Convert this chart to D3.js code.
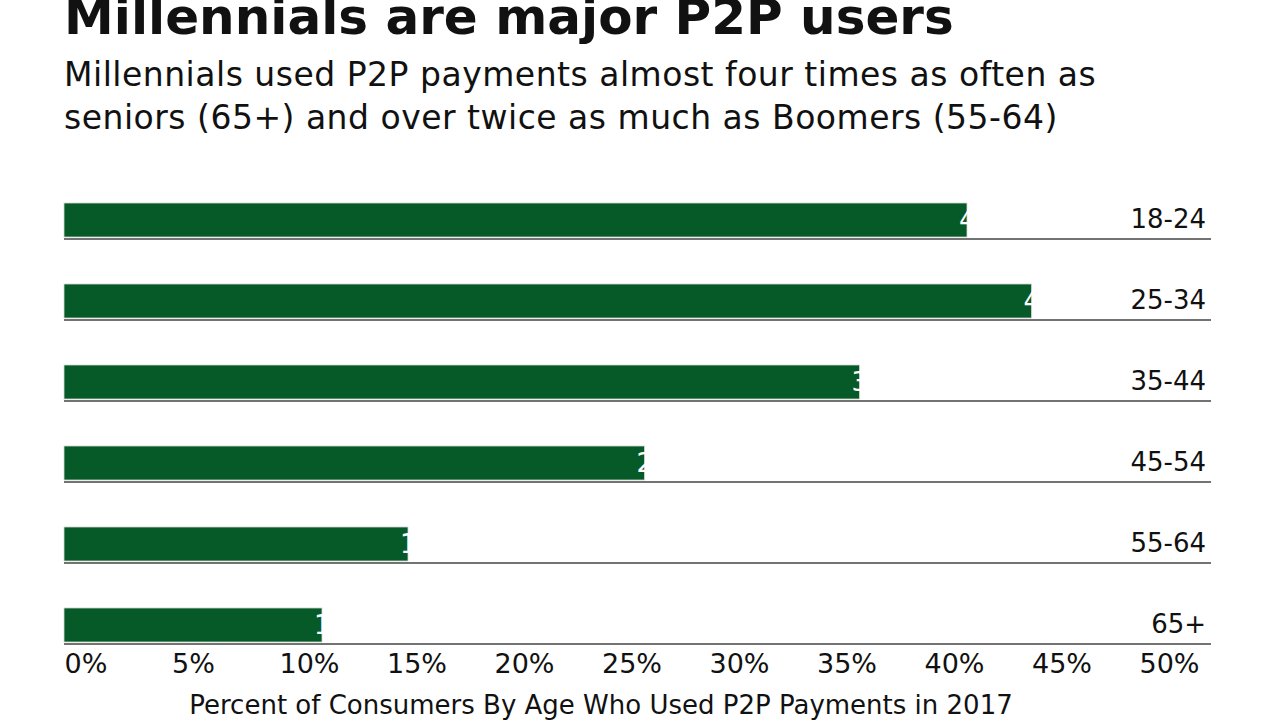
<!DOCTYPE html>
<html>
<head>
<meta charset="utf-8">
<script src="https://cdn.jsdelivr.net/npm/d3@7"></script>
<style>
  html, body { margin: 0; padding: 0; background: #fff; }
  svg { display: block; font-family: "DejaVu Sans", sans-serif; }
</style>
</head>
<body>
<div id="chart"></div>
<script>
// chart data
var ageGroups = ["18-24", "25-34", "35-44", "45-54", "55-64", "65+"];
var usedP2P = [42, 45, 37, 27, 16, 12];
var tickValues = [0, 5, 10, 15, 20, 25, 30, 35, 40, 45, 50];

var title = "Millennials are major P2P users";
var subtitle = ["Millennials used P2P payments almost four times as often as",
                "seniors (65+) and over twice as much as Boomers (55-64)"];
var axisTitle = "Percent of Consumers By Age Who Used P2P Payments in 2017";

var width = 1280, height = 720;
var green = "#055a27";

var svg = d3.select("#chart").append("svg")
    .attr("width", width)
    .attr("height", height);

svg.append("text")
    .attr("x", 64)
    .attr("y", 34)
    .attr("font-size", 50)
    .attr("font-weight", 700)
    .attr("fill", "#111")
    .text(title);

svg.selectAll(".sub")
    .data(subtitle)
    .enter().append("text")
    .attr("class", "sub")
    .attr("x", 64)
    .attr("y", function (d, i) { return 86 + i * 43; })
    .attr("font-size", 33)
    .attr("letter-spacing", 0.5)
    .attr("fill", "#111")
    .text(function (d) { return d; });

var x = d3.scaleLinear().domain([0, 50]).range([64, 1139]);
var y = d3.scaleBand().domain(ageGroups).range([203, 642]).paddingInner(0.58).paddingOuter(0);

var rows = svg.selectAll(".row")
    .data(ageGroups)
    .enter().append("g")
    .attr("class", "row");

rows.append("rect")
    .attr("x", x(0))
    .attr("y", function (d) { return y(d); })
    .attr("width", function (d, i) { return x(usedP2P[i]) - x(0); })
    .attr("height", y.bandwidth())
    .attr("fill", green)
    .attr("stroke", "#d8d8d8")
    .attr("stroke-width", 0.8);

// value labels: white, mostly hidden past the bar end like the original
rows.append("text")
    .attr("x", function (d, i) { return x(usedP2P[i]) - 8; })
    .attr("y", function (d) { return y(d) + 26; })
    .attr("font-size", 26)
    .attr("fill", "#fff")
    .text(function (d, i) { return usedP2P[i] + "%"; });

rows.append("line")
    .attr("x1", x(0))
    .attr("x2", 1211)
    .attr("y1", function (d) { return y(d) + y.bandwidth() + 2; })
    .attr("y2", function (d) { return y(d) + y.bandwidth() + 2; })
    .attr("stroke", "#444")
    .attr("stroke-width", 1.5);

rows.append("text")
    .attr("x", 1206)
    .attr("y", function (d) { return y(d) + 25; })
    .attr("text-anchor", "end")
    .attr("font-size", 26)
    .attr("fill", "#111")
    .text(function (d) { return d; });

var axis = svg.append("g")
    .attr("transform", "translate(0,643)")
    .call(d3.axisBottom(x).tickValues(tickValues).tickSize(0)
        .tickFormat(function (d) { return d + "%"; }));
axis.select(".domain").remove();
axis.selectAll("text")
    .attr("y", 30)
    .attr("dy", 0)
    .attr("text-anchor", "start")
    .attr("font-size", 27)
    .attr("font-family", "DejaVu Sans, sans-serif")
    .attr("fill", "#111");

svg.append("text")
    .attr("x", 601)
    .attr("y", 714)
    .attr("text-anchor", "middle")
    .attr("font-size", 26)
    .attr("fill", "#111")
    .text(axisTitle);
</script>
</body>
</html>
